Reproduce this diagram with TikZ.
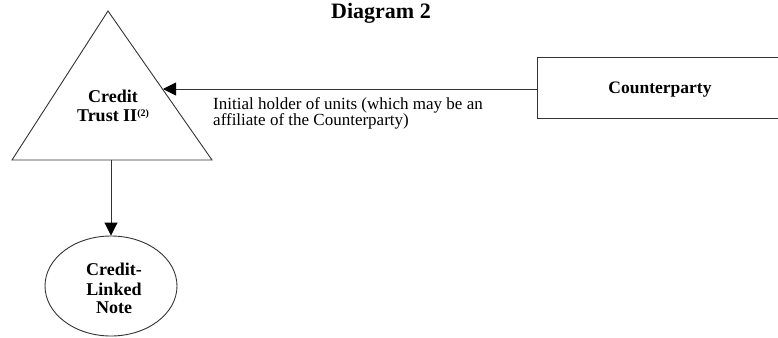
\documentclass[tikz,border=0pt]{standalone}
\usepackage{fontspec}
\setmainfont{Liberation Serif}
\usetikzlibrary{arrows.meta,shapes.geometric}
\tikzset{
  edge/.style={draw=black!80, line width=0.9pt},
  arr/.style={edge, -{Triangle[length=13pt,width=13pt,color=black]}},
  boldtext/.style={font=\fontsize{18}{19}\selectfont\bfseries, align=center, inner sep=0pt},
  plain/.style={font=\fontsize{17}{16}\selectfont, align=left, inner sep=0pt},
}
\begin{document}
\begin{tikzpicture}[x=1pt,y=-1pt]
\useasboundingbox (0,0) rectangle (778,337);
% title
\node[font=\fontsize{22}{24}\selectfont\bfseries, anchor=base, inner sep=0pt] (title) at (381,19) {Diagram 2};
% triangle
\coordinate (apex) at (108,11);
\coordinate (bl) at (12,160);
\coordinate (br) at (212,160);
\draw[edge] (apex) -- (br) -- (bl) -- cycle;
\coordinate (trihit) at (163,89);
\coordinate (tribase) at (111,160);
\node[boldtext, anchor=base] (credit) at (113,102) {Credit};
\node[boldtext, anchor=base] (trust) at (113,121) {Trust II\raisebox{0.55ex}{\fontsize{10}{10}\selectfont(2)}};
% counterparty box
\node[draw=black!80, line width=0.9pt, minimum width=246pt, minimum height=61pt, inner sep=0pt] (cp) at (660,87.5) {};
\node[boldtext, font=\fontsize{17.5}{19}\selectfont\bfseries, anchor=base] (cptext) at (660,93) {Counterparty};
% ellipse
\node[ellipse, draw=black!80, line width=0.9pt, minimum width=132pt, minimum height=100pt, inner sep=0pt] (cln) at (111,286) {};
\node[boldtext, anchor=base] (cln1) at (114,275) {Credit-};
\node[boldtext, anchor=base] (cln2) at (114,295) {Linked};
\node[boldtext, anchor=base] (cln3) at (114,313) {Note};
% connectors
\draw[arr] (cp.west |- trihit) -- (trihit);
\draw[arr] (tribase) -- (cln.north);
% label
\node[plain, anchor=base west] (lab1) at (213,109) {Initial holder of units (which may be an};
\node[plain, anchor=base west] (lab2) at (213,125) {affiliate of the Counterparty)};
\end{tikzpicture}
\end{document}
